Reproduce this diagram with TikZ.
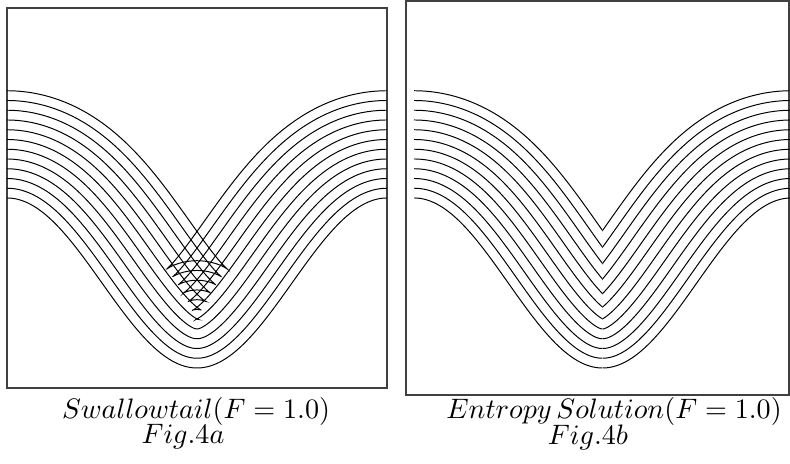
\documentclass[tikz,border=0pt]{standalone}
\usepackage{amsmath}
\usepackage{tikz}
\usetikzlibrary{positioning}
\tikzstyle{front} = [line width=0.35pt, black]
\tikzstyle{frame} = [line width=0.6pt, black!75]
\tikzset{every node/.style={align=center}}

\begin{document}
\begin{tikzpicture}[x=0.0125cm, y=0.0125cm,
    caption/.style={inner sep=0pt, font=\normalsize}]
  \useasboundingbox (0,0) rectangle (790,464);

  % --- Fig. 4a: offset fronts with swallowtails ---
  \draw[frame] (7,76) rectangle (387,456);
  \foreach \k in {0,...,11}{
    \pgfmathsetmacro{\d}{9.75*\k}
    \draw[front] plot[domain=0:1, samples=601, variable=\u]
      ({7+380*\u+\d*1.4054*sin(360*\u)/sqrt(1+(1.4054*sin(360*\u))^2)},
       {181+85*cos(360*\u)+\d/sqrt(1+(1.4054*sin(360*\u))^2)});
  }

  % --- Fig. 4b: entropy solution (loops cut at the centre line) ---
  \draw[frame] (406,69) rectangle (789,463);
  \begin{scope}
    \clip (406,69) rectangle (602.5,463);
    \foreach \k in {0,...,11}{
      \pgfmathsetmacro{\d}{9.75*\k}
      \draw[front] plot[domain=0:0.5, samples=301, variable=\u]
        ({414+377*\u+\d*1.4166*sin(360*\u)/sqrt(1+(1.4166*sin(360*\u))^2)},
         {181+85*cos(360*\u)+\d/sqrt(1+(1.4166*sin(360*\u))^2)});
    }
  \end{scope}
  \begin{scope}
    \clip (602.5,69) rectangle (790,463);
    \foreach \k in {0,...,11}{
      \pgfmathsetmacro{\d}{9.75*\k}
      \draw[front] plot[domain=0.5:1, samples=301, variable=\u]
        ({414+377*\u+\d*1.4166*sin(360*\u)/sqrt(1+(1.4166*sin(360*\u))^2)},
         {181+85*cos(360*\u)+\d/sqrt(1+(1.4166*sin(360*\u))^2)});
    }
  \end{scope}

  % --- captions ---
  \node[caption] (capA) at (196,53) {$Swallowtail(F = 1.0)$};
  \node[caption] (figA) at (183,27) {$Fig.4a$};
  \node[caption] (capB) at (614,53) {$Entropy\,Solution(F = 1.0)$};
  \node[caption] (figB) at (588,27) {$Fig.4b$};
\end{tikzpicture}
\end{document}
